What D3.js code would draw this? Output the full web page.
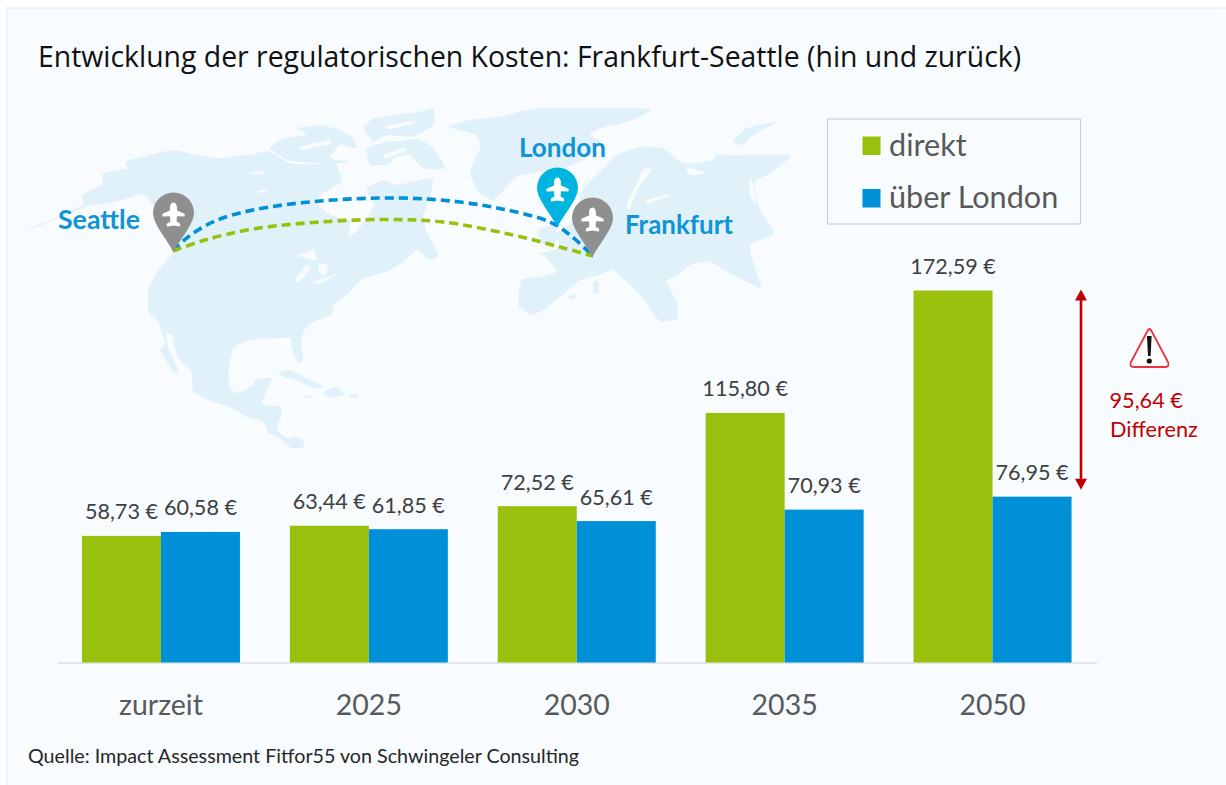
<!DOCTYPE html>
<html lang="de"><head><meta charset="utf-8">
<script src="https://cdnjs.cloudflare.com/ajax/libs/d3/7.9.0/d3.min.js"></script>
<style>html,body{margin:0;padding:0;background:#fff}svg{display:block}text{font-family:Lato,Carlito,sans-serif}</style>
</head><body><svg id="c" width="1226" height="785"></svg>
<script>
const categories = ["zurzeit","2025","2030","2035","2050"];
const seriesNames = ["direkt","über London"];
const direkt = [58.73,63.44,72.52,115.80,172.59];
const ueberLondon = [60.58,61.85,65.61,70.93,76.95];
const differenz = 95.64;
const cityNames = ["Seattle","London","Frankfurt"];
const titleText = "Entwicklung der regulatorischen Kosten: Frankfurt-Seattle (hin und zurück)";
const sourceText = "Quelle: Impact Assessment Fitfor55 von Schwingeler Consulting";

const seriesColors = ["#97c10d","#0090d7"];
// Decorative backdrop outlines (in 3x map units)
const landShapes = [
 [[22,375],[60,358],[115,335],[190,298],[185,270],[245,240],[250,205],[320,190],[315,170],[370,155],[460,135],[530,150],[600,160],[680,150],[750,140],[810,175],[900,178],[945,170],[965,230],[900,270],[895,300],[930,330],[990,345],[985,390],[1010,380],[1050,325],[1062,300],[1040,250],[1090,225],[1130,240],[1200,225],[1240,220],[1230,280],[1210,330],[1220,380],[1255,450],[1230,465],[1190,435],[1150,470],[1100,500],[1030,520],[990,560],[940,600],[935,630],[880,650],[850,680],[845,720],[850,760],[835,775],[815,730],[810,700],[750,700],[690,705],[640,730],[625,800],[630,850],[655,865],[700,840],[705,825],[755,820],[725,895],[780,905],[785,930],[770,970],[800,1000],[825,995],[850,1005],[850,1025],[815,1030],[780,1000],[745,985],[730,950],[680,935],[630,905],[590,895],[520,860],[515,800],[475,760],[455,690],[440,685],[445,730],[475,800],[460,800],[420,735],[435,715],[415,650],[385,620],[385,550],[420,490],[460,440],[440,380],[405,310],[370,268],[290,290],[200,305],[115,340],[22,378]],
 [[750,130],[790,100],[860,90],[830,70],[900,60],[960,75],[1000,100],[1010,130],[960,120],[930,160],[990,170],[940,176],[810,168]],
 [[1030,70],[1060,40],[1120,30],[1200,20],[1240,10],[1240,60],[1180,95],[1100,90],[1060,110]],
 [[1040,130],[1100,110],[1140,110],[1190,100],[1240,130],[1275,190],[1210,190],[1170,150],[1130,155],[1100,180],[1050,180]],
 [[1285,65],[1350,45],[1440,35],[1540,12],[1700,10],[1890,12],[1840,45],[1740,70],[1710,90],[1740,110],[1700,160],[1620,195],[1560,200],[1490,215],[1420,285],[1375,260],[1350,200],[1380,130],[1370,90]],
 [[1690,250],[1740,200],[1790,150],[1860,125],[1930,130],[1990,175],[2080,165],[2090,150],[2150,150],[2310,150],[2260,200],[2205,230],[2215,300],[2255,370],[2260,390],[2190,420],[2200,470],[2225,550],[2200,540],[2140,510],[2070,470],[2010,480],[1975,510],[1940,530],[1975,600],[1965,640],[1930,650],[1910,640],[1860,570],[1780,495],[1740,510],[1680,525],[1640,560],[1580,610],[1535,630],[1495,600],[1505,525],[1560,515],[1610,500],[1580,460],[1560,445],[1620,430],[1610,385],[1650,360],[1670,320]],
 [[1555,375],[1600,360],[1615,400],[1590,425],[1565,415]],
 [[2140,110],[2180,70],[2270,50],[2200,90],[2170,120]],
 [[775,805],[810,795],[870,825],[910,845],[880,850],[830,825],[790,815]],
 [[910,860],[950,845],[975,870],[930,878]],
 [[990,870],[1015,870],[1010,878],[990,878]],
 [[850,872],[880,872],[870,880]],
 [[1720,530],[1735,530],[1735,565],[1720,565]],
 [[1640,575],[1670,568],[1660,582]],
 [[1900,600],[1950,590],[1975,640],[1930,648]]
];
const waterShapes = [
 [[825,525],[860,480],[870,490],[840,530]],
 [[820,455],[880,435],[890,465],[850,455]],
 [[895,475],[925,480],[915,510],[900,505]],
 [[880,530],[960,505],[900,535]],
 [[680,205],[730,197],[725,208]],
 [[700,262],[740,252],[735,262]],
 [[1820,300],[1870,195],[1895,195],[1855,250],[1830,310]],
 [[1880,285],[1945,268],[1945,275],[1885,295]],
 [[2000,185],[2060,205],[2010,210]],
 [[1775,490],[1845,555],[1860,575],[1790,520]],
 [[2190,220],[2200,235],[2210,300],[2190,270]],
 [[840,125],[930,105],[925,118],[850,135]],
 [[1100,62],[1180,48],[1175,58],[1110,72]],
 [[1090,150],[1150,128],[1155,138],[1100,160]],
 [[1000,215],[1090,205],[1085,213],[1005,223]]
];
const routeDirekt = [[173,251],[205,240],[253,229],[320,222],[385,219.5],[443,222],[513,235],[560,247],[593,256]];
const routeLondon = [[173,251],[188,237],[215,221],[253,210],[320,201],[400,198],[460,202],[507,210],[550,222],[570,235],[593,256]];

const svg = d3.select("#c");
const W = 1226, H = 785;
const defs = svg.append("defs");
defs.append("filter").attr("id","soft").append("feGaussianBlur").attr("stdDeviation",2);
svg.append("rect").attr("x",7).attr("y",8).attr("width",W+20).attr("height",H+20)
  .attr("fill","#f8fcff").attr("stroke","#ebf5fb").attr("stroke-width",2);

// map
const mapG = svg.append("g").attr("transform","translate(20,105) scale(0.3333)").attr("filter","url(#soft)");
const poly = d3.line().curve(d3.curveCardinalClosed.tension(0.55));
mapG.selectAll("path.land").data(landShapes).join("path").attr("class","land").attr("d",poly).attr("fill","#e0f1fa");
mapG.selectAll("path.water").data(waterShapes).join("path").attr("class","water").attr("d",poly).attr("fill","#f8fcff");

// scales
const baseY = 662.5;
const x0 = d3.scaleBand().domain(categories).range([57,1096.5]).paddingInner(0.24).paddingOuter(0.12);
const x1 = d3.scaleBand().domain(seriesNames).range([0,x0.bandwidth()]);
const y = d3.scaleLinear().domain([0,172.59]).range([baseY,290.5]);

// axis
const axis = svg.append("g").attr("transform",`translate(0,${baseY})`)
  .call(d3.axisBottom(x0).tickSize(0).tickPadding(32));
axis.select(".domain").attr("stroke","#dcdfe2").attr("stroke-width",1.5);
axis.selectAll("text").attr("font-size",28.5).attr("fill","#595959").style("font-family","Lato,Carlito,sans-serif");

// bars + labels
const fmt = v => v.toFixed(2).replace(".",",")+" €";
const series = [direkt, ueberLondon];
seriesNames.forEach((s,si)=>{
  const g = svg.append("g");
  g.selectAll("rect").data(categories).join("rect")
    .attr("x",c=>x0(c)+x1(s)).attr("width",x1.bandwidth())
    .attr("y",(c,i)=>y(series[si][i])).attr("height",(c,i)=>baseY-y(series[si][i]))
    .attr("fill",seriesColors[si]);
  g.selectAll("text").data(categories).join("text")
    .attr("x",c=>x0(c)+x1(s)+x1.bandwidth()/2)
    .attr("y",(c,i)=>y(series[si][i])-16.5)
    .attr("text-anchor","middle").attr("font-size",21.6).attr("fill","#404040")
    .text((c,i)=>fmt(series[si][i]));
});

// routes
const curve = d3.line().curve(d3.curveCatmullRom.alpha(0.5));
svg.append("path").attr("d",curve(routeLondon)).attr("fill","none").attr("stroke",seriesColors[1]).attr("stroke-width",3.6).attr("stroke-dasharray","9 5");
svg.append("path").attr("d",curve(routeDirekt)).attr("fill","none").attr("stroke",seriesColors[0]).attr("stroke-width",3.6).attr("stroke-dasharray","9 5");

// pins
const pinTips = {Seattle:[173.5,252],London:[557.5,227],Frankfurt:[592.5,257]};
const pinColor = {Seattle:"#8f8f8f",London:"#00b4e2",Frankfurt:"#8f8f8f"};
const pinPath = "M0,0 C-6,-12 -20.5,-28 -20.5,-39 A20.5,20.5 0 1 1 20.5,-39 C20.5,-28 6,-12 0,0Z";
const planePath = "M0,-12.5 C2.4,-12.5 3.5,-9.5 3.5,-7 L3.5,-4.5 L10.5,-1.5 C11.5,-1 11.5,1.6 10.5,1.6 L3.5,1.2 L3,6.5 L6.4,8.5 C7,9.5 6.8,11.5 5.8,11.5 L0,10.5 L-5.8,11.5 C-6.8,11.5 -7,9.5 -6.4,8.5 L-3,6.5 L-3.5,1.2 L-10.5,1.6 C-11.5,1.6 -11.5,-1 -10.5,-1.5 L-3.5,-4.5 L-3.5,-7 C-3.5,-9.5 -2.4,-12.5 0,-12.5Z";
const pinG = svg.selectAll("g.pin").data(cityNames).join("g").attr("class","pin")
  .attr("transform",d=>`translate(${pinTips[d][0]},${pinTips[d][1]})`);
pinG.append("path").attr("d",pinPath).attr("fill",d=>pinColor[d]);
pinG.append("path").attr("d",planePath).attr("transform","translate(0,-37)").attr("fill","#fff");

const cityAt = {Seattle:[58,229,82],London:[519,157,87],Frankfurt:[625,234,108]};
svg.selectAll("text.city").data(cityNames).join("text").attr("class","city")
  .attr("x",d=>cityAt[d][0]).attr("y",d=>cityAt[d][1]).attr("font-size",26.5).attr("font-weight",700)
  .attr("textLength",d=>cityAt[d][2]).attr("lengthAdjust","spacingAndGlyphs")
  .attr("fill","#0f94d6").text(d=>d);

// title, source
svg.append("text").attr("x",38).attr("y",67).attr("font-size",28.4).attr("fill","#111")
  .style("font-family","'Open Sans',sans-serif").text(titleText);
svg.append("text").attr("x",28).attr("y",763).attr("font-size",19.7).attr("fill","#262626").text(sourceText);

// legend
svg.append("rect").attr("x",827.5).attr("y",119).attr("width",253).attr("height",105)
  .attr("fill","none").attr("stroke","#cfcfcf").attr("stroke-width",1.2);
const legendY = d3.scalePoint().domain(seriesNames).range([146,198.5]);
const lg = svg.selectAll("g.lg").data(seriesNames).join("g").attr("class","lg")
  .attr("transform",d=>`translate(0,${legendY(d)})`);
lg.append("rect").attr("x",862.5).attr("y",-9.5).attr("width",18).attr("height",18.5).attr("fill",(d,i)=>seriesColors[i]);
lg.append("text").attr("x",889).attr("y",9.5).attr("font-size",30.6).attr("fill","#595959").text(d=>d);

// difference arrow
const ax = 1081, dc = "#c00000";
svg.append("line").attr("x1",ax).attr("x2",ax).attr("y1",y(172.59)+6).attr("y2",y(172.59-differenz)-14).attr("stroke",dc).attr("stroke-width",2.6);
svg.append("path").attr("d",`M${ax},${y(172.59)-1} l6,11 h-12z`).attr("fill",dc);
svg.append("path").attr("d",`M${ax},${y(172.59-differenz)-7} l6,-11 h-12z`).attr("fill",dc);

// warning
svg.append("path").attr("d","M1149.5,329 Q1150.5,329 1151.5,331 L1168,362 Q1170,367 1165,367 L1134,367 Q1129,367 1131,362 L1147.5,331 Q1148.5,329 1149.5,329Z")
  .attr("fill","#fff").attr("stroke","#e8343c").attr("stroke-width",1.8);
svg.append("path").attr("d","M1147,336 h4.6 l-1,20 h-2.6z").attr("fill","#111");
svg.append("circle").attr("cx",1149.3).attr("cy",361).attr("r",2.6).attr("fill","#111");
svg.append("text").attr("x",1109.5).attr("y",408).attr("font-size",21.7).attr("fill",dc).text(fmt(differenz));
svg.append("text").attr("x",1110).attr("y",437).attr("font-size",21.7).attr("fill",dc).text("Differenz");
</script></body></html>
